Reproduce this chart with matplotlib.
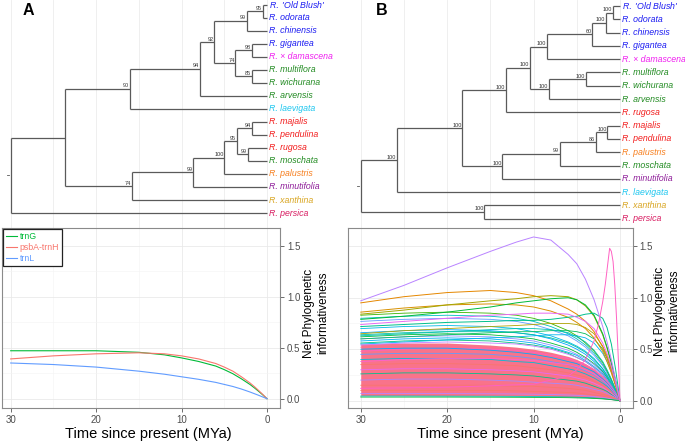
import matplotlib
matplotlib.use('Agg')
import matplotlib.pyplot as plt

plt.rcParams['font.family'] = ['Liberation Sans', 'DejaVu Sans']
plt.rcParams['mathtext.fontset'] = 'custom'
plt.rcParams['mathtext.it'] = 'Liberation Sans:italic'
plt.rcParams['mathtext.rm'] = 'Liberation Sans'

W, H = 685, 442

# ---------------- tree data ----------------
BLUE, MAG, GRN, CYN = '#1c1cf2', '#f01ff0', '#228b22', '#1cc6ef'
RED, ORG, PUR, GLD, CRM = '#f21c1c', '#f77f1e', '#8e1c99', '#d9a520', '#d81b60'

tips_A = ["'Old Blush'", 'odorata', 'chinensis', 'gigantea', '× damascena',
          'multiflora', 'wichurana', 'arvensis', 'laevigata', 'majalis',
          'pendulina', 'rugosa', 'moschata', 'palustris', 'minutifolia',
          'xanthina', 'persica']
tip_colors_A = [BLUE, BLUE, BLUE, BLUE, MAG, GRN, GRN, GRN, CYN, RED, RED,
                RED, GRN, ORG, PUR, GLD, CRM]
tip_parent_A = ['a7', 'a7', 'a6', 'a9', 'a9', 'a10', 'a10', 'a4', 'a2',
                'a14', 'a14', 'a15', 'a15', 'a12', 'a11', 'a3', 'a0']
node_A = ['a0', 'a1', 'a2', 'a3', 'a4', 'a5', 'a6', 'a7', 'a8', 'a9', 'a10',
          'a11', 'a12', 'a13', 'a14', 'a15']
node_parent_A = [None, 'a0', 'a1', 'a1', 'a2', 'a4', 'a5', 'a6', 'a5', 'a8',
                 'a8', 'a3', 'a11', 'a12', 'a13', 'a13']
node_age_A = [30.0, 23.65, 16.04, 15.8, 7.88, 6.17, 2.38, 0.52, 3.7, 1.8,
              1.8, 8.63, 5.0, 3.55, 1.8, 2.26]
node_support_A = ['', '', '90', '74', '94', '92', '99', '95', '74', '98',
                  '85', '99', '100', '95', '94', '99']

tips_B = ["'Old Blush'", 'odorata', 'chinensis', 'gigantea', '× damascena',
          'multiflora', 'wichurana', 'arvensis', 'rugosa', 'majalis',
          'pendulina', 'palustris', 'moschata', 'minutifolia', 'laevigata',
          'xanthina', 'persica']
tip_colors_B = [BLUE, BLUE, BLUE, BLUE, MAG, GRN, GRN, GRN, RED, RED, RED,
                ORG, GRN, PUR, CYN, GLD, CRM]
tip_parent_B = ['b9', 'b9', 'b8', 'b7', 'b6', 'b11', 'b11', 'b10', 'b4',
                'b15', 'b15', 'b14', 'b13', 'b12', 'b1', 'b2', 'b2']
node_B = ['b0', 'b1', 'b2', 'b3', 'b4', 'b5', 'b6', 'b7', 'b8', 'b9', 'b10',
          'b11', 'b12', 'b13', 'b14', 'b15']
node_parent_B = [None, 'b0', 'b0', 'b1', 'b3', 'b4', 'b5', 'b6', 'b7', 'b8',
                 'b5', 'b10', 'b3', 'b12', 'b13', 'b14']
node_age_B = [30.0, 25.85, 15.7, 18.25, 13.2, 10.4, 8.48, 3.2, 1.66, 0.85,
              8.2, 3.97, 13.6, 7.0, 2.78, 1.47]
node_support_B = ['', '100', '100', '100', '100', '100', '100', '60', '100',
                  '100', '100', '100', '100', '99', '86', '100']

# ---------------- informativeness data ----------------
T = [30, 25, 20, 15, 12, 10, 8, 6, 5, 4, 3, 2, 1.5, 1, 0.5, 0]

trnG = [0.47, 0.47, 0.47, 0.455, 0.43, 0.40, 0.365, 0.32, 0.285, 0.245,
        0.195, 0.14, 0.108, 0.074, 0.038, 0]
psbA_trnH = [0.39, 0.42, 0.44, 0.45, 0.44, 0.42, 0.39, 0.345, 0.31, 0.27,
             0.215, 0.155, 0.12, 0.082, 0.042, 0]
trnL = [0.35, 0.335, 0.31, 0.27, 0.24, 0.215, 0.19, 0.16, 0.14, 0.12,
        0.095, 0.066, 0.05, 0.034, 0.017, 0]

mass_top = [0.55, 0.56, 0.56, 0.54, 0.52, 0.50, 0.47, 0.43, 0.40, 0.36,
            0.31, 0.24, 0.19, 0.13, 0.07, 0]
mass_bot = [0.05, 0.05, 0.05, 0.05, 0.048, 0.046, 0.043, 0.039, 0.036,
            0.032, 0.027, 0.02, 0.016, 0.011, 0.006, 0]

upper_colors = ['#00BFC4', '#619CFF', '#39B600', '#00B8E7', '#00A5FF',
                '#00C1A3', '#00BA38', '#8F91FF', '#00B0F6', '#00BF7D',
                '#00BD5C', '#00B4EF', '#AEA200', '#C77CFF', '#00C0AF']
upper_lines = [
    [0.80, 0.82, 0.83, 0.82, 0.80, 0.77, 0.72, 0.65, 0.60, 0.54, 0.46, 0.35, 0.28, 0.20, 0.10, 0],
    [0.77, 0.79, 0.80, 0.79, 0.77, 0.74, 0.69, 0.63, 0.58, 0.52, 0.44, 0.34, 0.27, 0.19, 0.10, 0],
    [0.83, 0.85, 0.86, 0.85, 0.83, 0.80, 0.75, 0.68, 0.63, 0.56, 0.48, 0.37, 0.29, 0.20, 0.10, 0],
    [0.70, 0.72, 0.73, 0.72, 0.70, 0.67, 0.63, 0.57, 0.53, 0.48, 0.41, 0.31, 0.25, 0.18, 0.09, 0],
    [0.66, 0.68, 0.69, 0.68, 0.66, 0.64, 0.60, 0.54, 0.50, 0.45, 0.38, 0.29, 0.23, 0.16, 0.08, 0],
    [0.64, 0.66, 0.67, 0.67, 0.66, 0.64, 0.61, 0.56, 0.52, 0.47, 0.40, 0.31, 0.24, 0.17, 0.09, 0],
    [0.62, 0.64, 0.65, 0.64, 0.62, 0.60, 0.56, 0.51, 0.47, 0.42, 0.36, 0.28, 0.22, 0.15, 0.08, 0],
    [0.60, 0.62, 0.63, 0.62, 0.60, 0.58, 0.54, 0.49, 0.45, 0.41, 0.35, 0.27, 0.21, 0.15, 0.08, 0],
    [0.58, 0.60, 0.61, 0.60, 0.58, 0.56, 0.52, 0.47, 0.44, 0.39, 0.33, 0.26, 0.20, 0.14, 0.07, 0],
    [0.56, 0.58, 0.59, 0.58, 0.56, 0.54, 0.51, 0.46, 0.42, 0.38, 0.32, 0.25, 0.20, 0.14, 0.07, 0],
    [0.60, 0.62, 0.64, 0.66, 0.67, 0.67, 0.68, 0.68, 0.67, 0.65, 0.60, 0.50, 0.41, 0.30, 0.16, 0],
    [0.55, 0.57, 0.59, 0.61, 0.62, 0.63, 0.64, 0.64, 0.63, 0.61, 0.56, 0.46, 0.38, 0.28, 0.15, 0],
    [0.65, 0.68, 0.70, 0.72, 0.73, 0.74, 0.75, 0.75, 0.74, 0.71, 0.65, 0.53, 0.44, 0.32, 0.17, 0],
    [0.54, 0.56, 0.57, 0.56, 0.55, 0.53, 0.50, 0.45, 0.42, 0.38, 0.32, 0.25, 0.20, 0.14, 0.07, 0],
    [0.63, 0.65, 0.67, 0.69, 0.70, 0.70, 0.69, 0.66, 0.62, 0.57, 0.49, 0.38, 0.30, 0.21, 0.11, 0],
]

inner_colors = ['#FF6C91', '#619CFF', '#00BCD8', '#F8766D', '#E76BF3',
                '#00C08B', '#FF61C3', '#A58AFF', '#F8766D', '#00A9FF',
                '#FD61D1', '#F8766D', '#00BFC4', '#B983FF', '#00BA38']
inner_lines = [
    [0.52, 0.53, 0.53, 0.51, 0.49, 0.47, 0.44, 0.40, 0.37, 0.34, 0.29, 0.22, 0.18, 0.13, 0.06, 0],
    [0.45, 0.46, 0.46, 0.45, 0.43, 0.41, 0.38, 0.35, 0.32, 0.29, 0.25, 0.19, 0.15, 0.11, 0.06, 0],
    [0.40, 0.41, 0.41, 0.40, 0.38, 0.37, 0.34, 0.31, 0.29, 0.26, 0.22, 0.17, 0.14, 0.10, 0.05, 0],
    [0.35, 0.36, 0.36, 0.35, 0.34, 0.32, 0.30, 0.27, 0.25, 0.23, 0.19, 0.15, 0.12, 0.08, 0.04, 0],
    [0.30, 0.31, 0.31, 0.30, 0.29, 0.28, 0.26, 0.24, 0.22, 0.20, 0.17, 0.13, 0.10, 0.07, 0.04, 0],
    [0.26, 0.27, 0.27, 0.26, 0.25, 0.24, 0.22, 0.20, 0.19, 0.17, 0.14, 0.11, 0.09, 0.06, 0.03, 0],
    [0.48, 0.50, 0.51, 0.50, 0.49, 0.47, 0.44, 0.41, 0.38, 0.35, 0.30, 0.23, 0.19, 0.13, 0.07, 0],
    [0.20, 0.21, 0.21, 0.20, 0.19, 0.18, 0.17, 0.16, 0.15, 0.13, 0.11, 0.09, 0.07, 0.05, 0.03, 0],
    [0.15, 0.15, 0.15, 0.15, 0.14, 0.14, 0.13, 0.12, 0.11, 0.10, 0.08, 0.06, 0.05, 0.04, 0.02, 0],
    [0.50, 0.51, 0.51, 0.49, 0.47, 0.45, 0.42, 0.38, 0.36, 0.32, 0.28, 0.21, 0.17, 0.12, 0.06, 0],
    [0.38, 0.40, 0.41, 0.41, 0.40, 0.39, 0.37, 0.35, 0.33, 0.30, 0.26, 0.20, 0.16, 0.11, 0.06, 0],
    [0.10, 0.10, 0.10, 0.10, 0.095, 0.09, 0.085, 0.08, 0.075, 0.065, 0.055, 0.045, 0.035, 0.025, 0.013, 0],
    [0.045, 0.045, 0.044, 0.043, 0.042, 0.041, 0.039, 0.036, 0.034, 0.031, 0.027, 0.021, 0.017, 0.012, 0.006, 0],
    [0.07, 0.07, 0.069, 0.067, 0.065, 0.063, 0.06, 0.055, 0.052, 0.047, 0.04, 0.032, 0.025, 0.018, 0.009, 0],
    [0.035, 0.035, 0.035, 0.034, 0.033, 0.032, 0.031, 0.029, 0.027, 0.025, 0.022, 0.017, 0.014, 0.01, 0.005, 0],
]

top_colors = ['#E58700', '#D89000', '#A3A500', '#00BA38', '#00C08B',
              '#E76BF3', '#B983FF']
top_lines = [
    [0.95, 1.01, 1.05, 1.07, 1.05, 1.02, 0.97, 0.89, 0.84, 0.77, 0.67, 0.52, 0.42, 0.30, 0.15, 0],
    [0.86, 0.90, 0.93, 0.94, 0.93, 0.91, 0.87, 0.81, 0.76, 0.70, 0.61, 0.48, 0.38, 0.27, 0.14, 0],
    [0.84, 0.88, 0.93, 0.97, 0.99, 1.01, 1.02, 1.01, 0.98, 0.92, 0.82, 0.64, 0.51, 0.36, 0.19, 0],
    [0.79, 0.82, 0.86, 0.91, 0.95, 0.97, 0.99, 1.00, 0.98, 0.93, 0.83, 0.65, 0.52, 0.37, 0.19, 0],
    [0.72, 0.74, 0.76, 0.77, 0.78, 0.78, 0.79, 0.81, 0.82, 0.84, 0.85, 0.80, 0.71, 0.55, 0.30, 0],
    [0.74, 0.77, 0.80, 0.83, 0.84, 0.85, 0.85, 0.84, 0.81, 0.77, 0.70, 0.56, 0.46, 0.33, 0.17, 0],
    [0.97, 1.12, 1.29, 1.45, 1.54, 1.59, 1.56, 1.42, 1.33, 1.18, 0.98, 0.72, 0.57, 0.40, 0.20, 0],
]

# the sharp spike near the present needs its own finer time points
T_spike = [30, 20, 10, 6, 5, 4, 3, 2.5, 2, 1.7, 1.4, 1.2, 1.0, 0.8, 0.6,
           0.4, 0.2, 0]
spike = [0.12, 0.13, 0.16, 0.24, 0.30, 0.40, 0.58, 0.74, 0.96, 1.13, 1.34,
         1.48, 1.45, 1.35, 1.12, 0.80, 0.42, 0]


def px_axes(fig, x0, y0, x1, y1):
    return fig.add_axes([x0 / W, 1 - y1 / H, (x1 - x0) / W, (y1 - y0) / H])


def tip_label(name):
    if name.startswith("'"):
        return r"$\mathit{R.}$ " + name
    return 'R. ' + name


def draw_tree(ax, tips, tip_colors, tip_parent, nodes, parents, ages, support):
    age = dict(zip(nodes, ages))
    par = dict(zip(nodes, parents))
    kids = {n: [] for n in nodes}
    for i, p in enumerate(tip_parent):
        kids[p].append(('t', i))
    for n, p in zip(nodes, parents):
        if p is not None:
            kids[p].append(('n', n))

    ycache = {}

    def ypos(item):
        kind, key = item
        if kind == 't':
            return key
        if key not in ycache:
            ys = [ypos(k) for k in kids[key]]
            ycache[key] = sum(ys) / len(ys)
        return ycache[key]

    lc = '#5a5a5a'
    lw = 0.9
    for i, p in enumerate(tip_parent):
        ax.plot([age[p], 0], [i, i], color=lc, lw=lw, solid_capstyle='butt')
        ax.text(-0.28, i, tip_label(tips[i]), color=tip_colors[i], fontsize=6.3,
                style='italic', ha='left', va='center')
    for n in nodes:
        y = ypos(('n', n))
        ys = [ypos(k) for k in kids[n]]
        ax.plot([age[n], age[n]], [min(ys), max(ys)], color=lc, lw=lw,
                solid_capstyle='butt')
        if par[n] is not None:
            ax.plot([age[par[n]], age[n]], [y, y], color=lc, lw=lw,
                    solid_capstyle='butt')
        else:
            ax.plot([age[n] + 0.45, age[n] + 0.25], [y, y], color=lc, lw=0.6)
        lab = support[nodes.index(n)]
        if lab:
            ax.annotate(lab, (age[n], y), xytext=(-0.5, 0.4),
                        textcoords='offset points', ha='right', va='bottom',
                        fontsize=4.0, color='#333333')
    for g in range(0, 31, 5):
        ax.axvline(g, color='#ececec', lw=0.6, zorder=0)
    ax.axis('off')


def style_bottom(ax, xlim, ylim, label_x):
    ax.set_xlim(*xlim)
    ax.set_ylim(*ylim)
    ax.set_xticks([30, 20, 10, 0])
    ax.set_xticks([25, 15, 5], minor=True)
    ax.set_yticks([0, 0.5, 1.0, 1.5])
    ax.set_yticklabels(['0.0', '0.5', '1.0', '1.5'])
    ax.set_yticks([0.25, 0.75, 1.25], minor=True)
    ax.yaxis.tick_right()
    ax.tick_params(which='major', length=3, width=0.6, color='#555555',
                   labelsize=7, labelcolor='#4d4d4d', pad=2)
    ax.tick_params(which='minor', length=0)
    ax.grid(which='major', color='#e8e8e8', lw=0.55)
    ax.grid(which='minor', color='#f3f3f3', lw=0.4)
    ax.set_axisbelow(True)
    for s in ax.spines.values():
        s.set_color('#8a8a8a')
        s.set_linewidth(0.8)
    fig.text(label_x / W, 1 - 434 / H, 'Time since present (MYa)',
             fontsize=10.5, ha='center', va='center')


fig = plt.figure(figsize=(6.85, 4.42), dpi=100)

# tree A
axA = px_axes(fig, 0, 0, 340, 228)
axA.set_xlim(31.25, -8.55)
axA.set_ylim(17.15, -0.36)
draw_tree(axA, tips_A, tip_colors_A, tip_parent_A, node_A, node_parent_A,
          node_age_A, node_support_A)

# tree B
axB = px_axes(fig, 340, 0, 685, 228)
axB.set_xlim(32.4, -7.52)
axB.set_ylim(16.7, -0.45)
draw_tree(axB, tips_B, tip_colors_B, tip_parent_B, node_B, node_parent_B,
          node_age_B, node_support_B)

fig.text(28.3 / W, 1 - 10.5 / H, 'A', fontsize=11.5, fontweight='bold',
         ha='center', va='center')
fig.text(381.7 / W, 1 - 10.5 / H, 'B', fontsize=11.5, fontweight='bold',
         ha='center', va='center')

# bottom A
bA = px_axes(fig, 1.7, 228, 280, 408)
bA.plot(T, trnG, color='#00BA38', lw=0.8, label='trnG')
bA.plot(T, psbA_trnH, color='#F8766D', lw=0.8, label='psbA-trnH')
bA.plot(T, trnL, color='#619CFF', lw=0.8, label='trnL')
style_bottom(bA, (31.05, -1.52), (-0.091, 1.673), 148)
leg = bA.legend(loc='upper left', bbox_to_anchor=(0.0, 1.0), fontsize=6.3,
                labelcolor='linecolor', handlelength=1.2, handletextpad=0.35,
                labelspacing=0.2, borderpad=0.35, borderaxespad=0.15,
                fancybox=False, framealpha=1)
leg.get_frame().set_edgecolor('#222222')
leg.get_frame().set_linewidth(0.9)
fig.text(316 / W, 1 - 313 / H, 'Net Phylogenetic\ninformativeness',
         rotation=90, fontsize=8.5, ha='center', va='center',
         multialignment='center')

# bottom B
bB = px_axes(fig, 348.3, 227.7, 632.7, 408.3)
for c, v in zip(upper_colors, upper_lines):
    bB.plot(T, v, color=c, lw=0.6)
bB.fill_between(T, mass_bot, mass_top, color='#F9738A', lw=0)
for c, v in zip(inner_colors, inner_lines):
    bB.plot(T, v, color=c, lw=0.6)
for c, v in zip(top_colors, top_lines):
    bB.plot(T, v, color=c, lw=0.7)
bB.plot(T_spike, spike, color='#FF61C3', lw=0.7)
style_bottom(bB, (31.44, -1.47), (-0.074, 1.68), 500)
fig.text(667 / W, 1 - 311 / H, 'Net Phylogenetic\ninformativeness',
         rotation=90, fontsize=8.5, ha='center', va='center',
         multialignment='center')

fig.savefig('out.png', dpi=100)
